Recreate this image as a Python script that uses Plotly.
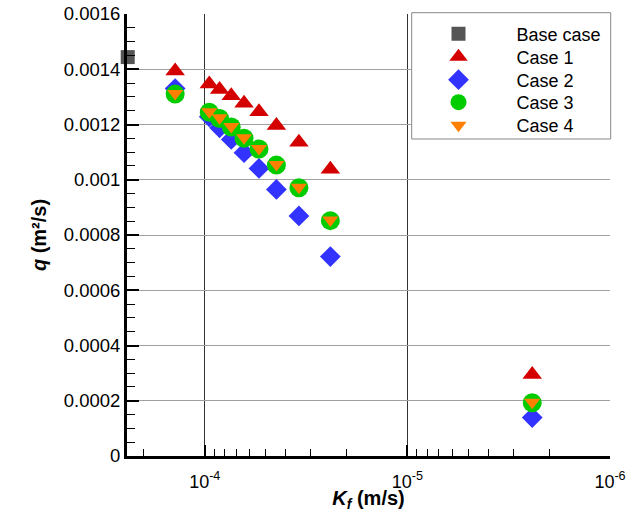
import plotly.graph_objects as go
import math

# Data
series_names = ["Base case", "Case 1", "Case 2", "Case 3", "Case 4"]
base_K = [2.4e-4]
base_q = [0.001444]

K_cases = [1.4e-4, 9.5e-5, 8.45e-5, 7.4e-5, 6.4e-5, 5.4e-5, 4.43e-5, 3.43e-5, 2.4e-5, 2.42e-6]
q_case1 = [0.001394, 0.001347, 0.001327, 0.001304, 0.001277, 0.001246, 0.001196, 0.001136, 0.001038, 0.000295]
q_case2 = [0.00133, 0.001228, 0.001188, 0.001146, 0.001098, 0.001041, 0.000965, 0.000869, 0.000722, 0.000139]
q_case3 = [0.00131, 0.001244, 0.001222, 0.001191, 0.00115, 0.001111, 0.001053, 0.000971, 0.000852, 0.000193]
q_case4 = [0.001312, 0.001246, 0.001224, 0.001193, 0.001152, 0.001113, 0.001055, 0.000973, 0.000854, 0.000195]

y_tickvals = [0, 0.0002, 0.0004, 0.0006, 0.0008, 0.001, 0.0012, 0.0014, 0.0016]
y_ticktext = ["0", "0.0002", "0.0004", "0.0006", "0.0008", "0.001", "0.0012", "0.0014", "0.0016"]
x_tickvals = [1e-4, 1e-5, 1e-6]
x_ticktext = ["10<sup>-4</sup>", "10<sup>-5</sup>", "10<sup>-6</sup>"]
x_minor = [m * 10.0 ** e for e in (-6, -5, -4) for m in range(2, 10)]

FONT = "Liberation Sans, Arial, sans-serif"

# plot-area geometry (pixels) used to place the legend rows
L, R, T, B, W, H = 127, 29, 14, 56, 639, 512
PW, PH = W - L - R, H - T - B
def px_x(p): return (p - L) / PW
def px_y(p): return 1 - (p - T) / PH

legend_rows_px = [34, 57, 80, 102.5, 125.5]
legend_ids = ["legend", "legend2", "legend3", "legend4", "legend5"]

styles = [
    dict(symbol="square", size=14, color="#555555"),
    dict(symbol="triangle-up", size=17, color="#d40000"),
    dict(symbol="diamond", size=16, color="#3333ff"),
    dict(symbol="circle", size=19, color="#00cc00"),
    dict(symbol="triangle-down", size=14, color="#ff8000"),
]
xs = [base_K, K_cases, K_cases, K_cases, K_cases]
ys = [base_q, q_case1, q_case2, q_case3, q_case4]

fig = go.Figure()
for i in range(5):
    fig.add_trace(go.Scatter(x=xs[i], y=ys[i], mode="markers", name=series_names[i],
                             marker=styles[i], legend=legend_ids[i], cliponaxis=(i != 0)))

layout_legends = {}
for lid, ypx in zip(legend_ids, legend_rows_px):
    layout_legends[lid] = dict(x=px_x(400.5), xanchor="left", y=px_y(ypx), yanchor="middle",
                               borderwidth=0, bgcolor="rgba(0,0,0,0)", itemwidth=106,
                               font=dict(size=18, family=FONT, color="black"))

fig.update_layout(
    width=W, height=H,
    margin=dict(l=L, r=R, t=T, b=B, autoexpand=False),
    paper_bgcolor="white", plot_bgcolor="white",
    font=dict(family=FONT, size=18, color="black"),
    showlegend=True,
    **layout_legends,
    shapes=[dict(type="rect", xref="paper", yref="paper",
                 x0=px_x(411.7), x1=px_x(610.7), y0=px_y(139), y1=px_y(12.7),
                 line=dict(color="#888888", width=1), fillcolor="white", layer="above")],
)
fig.update_xaxes(
    type="log", range=[math.log10(2.42e-4), -6], autorange=False,
    tickvals=x_tickvals, ticktext=x_ticktext,
    ticks="inside", ticklen=11, tickwidth=2, tickcolor="black",
    showline=True, linewidth=3, linecolor="black",
    showgrid=True, gridcolor="#333333", gridwidth=1,
    minor=dict(tickvals=x_minor, ticks="inside", ticklen=7, tickwidth=1, tickcolor="black", showgrid=False),
    tickfont=dict(size=18), ticklabelstandoff=7,
    title=dict(text="<b><i>K</i><sub><i>f</i></sub> (m/s)</b>", font=dict(size=20), standoff=8),
    zeroline=False,
)
fig.update_yaxes(
    range=[0, 0.0016], autorange=False,
    tickvals=y_tickvals, ticktext=y_ticktext,
    ticks="inside", ticklen=12, tickwidth=2, tickcolor="black",
    showline=True, linewidth=3, linecolor="black",
    showgrid=True, gridcolor="#a0a0a0", gridwidth=1,
    minor=dict(dtick=0.00005, ticks="inside", ticklen=8, tickwidth=1, tickcolor="black", showgrid=False),
    tickfont=dict(size=18.5),
    title=dict(text="<b><i>q</i> (m²/s)</b>", font=dict(size=20), standoff=12),
    zeroline=False,
)

fig.write_html("out.html", config={"displayModeBar": False},
               post_script="document.body.style.margin='0';document.body.style.padding='0';")
